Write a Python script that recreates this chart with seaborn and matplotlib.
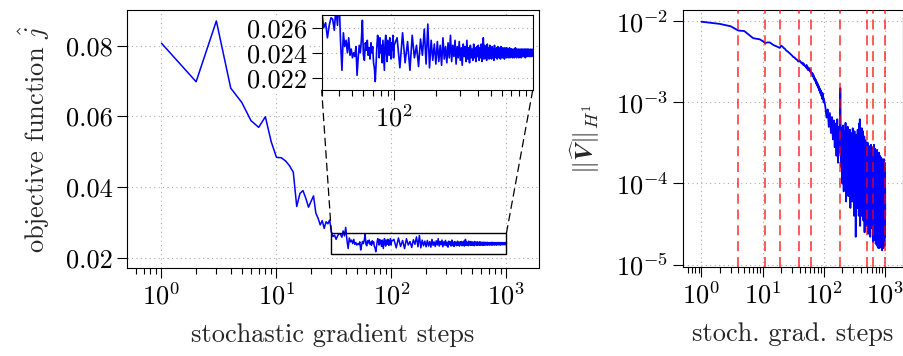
import numpy as np
import pandas as pd
import matplotlib
matplotlib.use('Agg')
import matplotlib.pyplot as plt
from matplotlib.patches import Rectangle, ConnectionPatch
from matplotlib.ticker import (FixedLocator, FormatStrFormatter, LogLocator,
                               NullLocator, NullFormatter)
import seaborn as sns

# steps: every step up to 100, then every 5th step
steps_head = list(range(1, 101))
steps_tail = list(range(105, 1001, 5))

# objective function values
obj_head = [
    .0807, .0698, .0870, .0680, .0639, .0588, .0569, .0599, .0528, .0484,
    .0483, .0474, .0460, .0442, .0345, .0382, .0390, .0368, .0343, .0360,
    .0375, .0326, .0312, .0293, .0305, .0283, .0302, .0296, .0307, .0274,
    .0260, .0264, .0252, .0262, .0268, .0267, .0258, .0276, .0262, .0286,
    .0250, .0226, .0256, .0245, .0250, .0240, .0252, .0238, .0243, .0236,
    .0240, .0237, .0245, .0222, .0236, .0246, .0240, .0250, .0266, .0238,
    .0234, .0248, .0242, .0250, .0238, .0244, .0235, .0248, .0240, .0245,
    .0232, .0228, .0217, .0230, .0245, .0254, .0248, .0236, .0252, .0240,
    .0246, .0232, .0250, .0238, .0226, .0248, .0254, .0240, .0233, .0250,
    .0244, .0238, .0252, .0240, .0235, .0248, .0242, .0254, .0236, .0246,
]
obj_tail = [
    .0252, .0228, .0256, .0232, .0249, .0226, .0254, .0236, .0246, .0229,
    .0251, .0238, .0259, .0231, .0263, .0228, .0250, .0234, .0247, .0231,
    .0249, .0233, .0246, .0230, .0252, .0235, .0245, .0232, .0248, .0236,
    .0254, .0233, .0246, .0237, .0250, .0231, .0245, .0236, .0249, .0234,
    .0244, .0230, .0247, .0237, .0245, .0233, .0250, .0235, .0244, .0232,
    .0246, .0236, .0243, .0234, .0247, .0236, .0244, .0233, .0245, .0237,
    .0246, .0234, .0244, .0236, .0247, .0233, .0245, .0252, .0235, .0246,
    .0236, .0243, .0234, .0247, .0237, .0244, .0235, .0246, .0236, .0243,
    .0235, .0245, .0237, .0243, .0234, .0246, .0237, .0243, .0236, .0244,
    .0235, .0245, .0237, .0243, .0236, .0244, .0235, .0245, .0237, .0242,
    .0236, .0244, .0237, .0243, .0235, .0244, .0237, .0242, .0236, .0244,
    .0237, .0243, .0236, .0242, .0237, .0244, .0236, .0242, .0237, .0243,
    .0237, .0243, .0236, .0242, .0238, .0243, .0236, .0242, .0237, .0244,
    .0237, .0242, .0236, .0243, .0238, .0242, .0237, .0243, .0236, .0242,
    .0238, .0243, .0237, .0242, .0236, .0243, .0238, .0242, .0237, .0243,
    .0237, .0242, .0238, .0243, .0237, .0242, .0236, .0243, .0238, .0242,
    .0237, .0243, .0238, .0242, .0237, .0243, .0238, .0242, .0237, .0242,
    .0238, .0243, .0237, .0242, .0238, .0242, .0237, .0243, .0238, .0241,
]

# H1 norm of the update
norm_head = [
    .0099, .0093, .0087, .0077, .0076, .0068, .0062, .0061, .0060, .0057,
    .0054, .0055, .0055, .0053, .0051, .0050, .0049, .0048, .0047, .0050,
    .0049, .0047, .0046, .0044, .0043, .0042, .0041, .0040, .0039, .0038,
    .0037, .0036, .0036, .0035, .0034, .0034, .0033, .0032, .0032, .0033,
    .0032, .0031, .0031, .0030, .0031, .0029, .0030, .0029, .0028, .0028,
    .0027, .0029, .0026, .0027, .0025, .0027, .0025, .0026, .0024, .0025,
    .0024, .0023, .0023, .0022, .0023, .0021, .0022, .0020, .0021, .0019,
    .0020, .0019, .0018, .0019, .0017, .0018, .0017, .0016, .0017, .0016,
    .0015, .0016, .0015, .0014, .0015, .0014, .0013, .0014, .0013, .0014,
    .0012, .0013, .0012, .0011, .0013, .0011, .0012, .0011, .0010, .0011,
]
norm_tail = [
    9.0e-4, 6.5e-4, 8.2e-4, 5.0e-4, 7.4e-4, 4.2e-4, 6.6e-4, 3.5e-4, 6.0e-4, 2.8e-4,
    5.5e-4, 2.2e-4, 6.2e-4, 1.8e-4, 5.0e-4, 2.4e-4, 1.5e-3, 1.6e-4, 4.8e-4, 1.0e-4,
    5.2e-4, 8.0e-5, 4.4e-4, 1.2e-4, 5.6e-4, 6.0e-5, 4.0e-4, 1.4e-4, 5.0e-4, 7.0e-5,
    3.8e-4, 1.1e-4, 4.6e-4, 5.0e-5, 4.2e-4, 9.0e-5, 3.6e-4, 6.0e-5, 4.8e-4, 1.0e-4,
    3.4e-4, 4.0e-5, 4.4e-4, 8.0e-5, 3.2e-4, 2.2e-5, 4.0e-4, 7.0e-5, 3.0e-4, 5.0e-5,
    4.6e-4, 9.0e-5, 3.4e-4, 4.0e-5, 5.5e-4, 8.0e-5, 6.2e-4, 3.0e-5, 4.2e-4, 7.0e-5,
    3.6e-4, 4.0e-5, 4.8e-4, 6.0e-5, 3.2e-4, 9.0e-5, 4.4e-4, 3.5e-5, 3.0e-4, 6.0e-5,
    3.8e-4, 2.5e-5, 2.8e-4, 7.0e-5, 3.4e-4, 4.0e-5, 2.6e-4, 8.0e-5, 3.0e-4, 3.0e-5,
    2.4e-4, 6.0e-5, 3.2e-4, 4.5e-5, 2.7e-4, 2.4e-5, 2.2e-4, 7.0e-5, 2.9e-4, 3.5e-5,
    2.1e-4, 6.0e-5, 2.6e-4, 2.2e-5, 2.3e-4, 5.0e-5, 3.0e-4, 3.0e-5, 2.0e-4, 6.5e-5,
    2.5e-4, 2.8e-5, 2.8e-4, 4.5e-5, 2.2e-4, 1.9e-5, 2.6e-4, 5.5e-5, 2.0e-4, 2.5e-5,
    3.0e-4, 6.0e-5, 2.4e-4, 2.0e-5, 2.7e-4, 4.5e-5, 1.9e-4, 2.6e-5, 2.3e-4, 1.8e-5,
    2.5e-4, 5.0e-5, 1.8e-4, 2.2e-5, 2.2e-4, 4.0e-5, 2.6e-4, 1.7e-5, 2.0e-4, 5.0e-5,
    1.8e-4, 2.4e-5, 2.3e-4, 1.6e-5, 2.1e-4, 4.2e-5, 1.7e-4, 2.0e-5, 2.4e-4, 3.5e-5,
    1.9e-4, 1.6e-5, 2.2e-4, 4.0e-5, 1.7e-4, 2.2e-5, 2.0e-4, 3.2e-5, 1.6e-4, 1.8e-5,
    2.1e-4, 4.0e-5, 1.8e-4, 2.0e-5, 1.9e-4, 3.0e-5, 1.6e-4, 1.5e-5, 2.0e-4, 3.5e-5,
    1.7e-4, 1.9e-5, 1.9e-4, 4.0e-5, 1.6e-4, 1.6e-5, 1.8e-4, 3.0e-5, 1.7e-4, 2.0e-5,
    2.0e-4, 3.5e-5, 1.6e-4, 1.7e-5, 1.8e-4, 2.8e-5, 1.5e-4, 2.2e-5, 1.7e-4, 4.0e-5,
]

# steps where the red dashed markers are
reset_steps = [4, 11, 19, 39, 61, 185, 505, 640, 985]

#%% style
sns.set_style('ticks')
plt.rcParams.update({
    'font.family': 'serif',
    'font.serif': ['cmr10', 'DejaVu Serif'],
    'mathtext.fontset': 'cm',
    'axes.formatter.use_mathtext': True,
    'axes.unicode_minus': False,
    'font.size': 19,
    'axes.edgecolor': 'black',
    'axes.linewidth': 0.8,
    'xtick.direction': 'out',
    'ytick.direction': 'out',
    'xtick.major.size': 7,
    'ytick.major.size': 7,
    'xtick.minor.size': 4.5,
    'ytick.minor.size': 4.5,
    'xtick.major.width': 0.8,
    'ytick.major.width': 0.8,
    'xtick.minor.width': 0.8,
    'ytick.minor.width': 0.8,
    'xtick.color': 'black',
    'ytick.color': 'black',
    'xtick.labelsize': 19,
    'ytick.labelsize': 19,
})

df = pd.DataFrame({'step': steps_head + steps_tail,
                   'obj': obj_head + obj_tail,
                   'norm': norm_head + norm_tail})

W, H = 904, 356
fig = plt.figure(figsize=(W / 100, H / 100), dpi=100)
ax1 = fig.add_axes([127 / W, 1 - 268 / H, 412 / W, 258 / H])
ax2 = fig.add_axes([683 / W, 1 - 267 / H, 220 / W, 257 / H])
axins = fig.add_axes([321.7 / W, 1 - 90.3 / H, 211 / W, 75 / H])

grid_kw = dict(ls=(0, (1, 3)), color='#aaaaaa', lw=0.8)

#%% left panel
sns.lineplot(data=df, x='step', y='obj', ax=ax1, color='blue', lw=1.1,
             estimator=None, sort=False)
ax1.set_xscale('log')
ax1.set_xlim(10 ** -0.3, 10 ** 3.283)
ax1.set_ylim(0.0171, 0.0901)
ax1.yaxis.set_major_locator(FixedLocator([0.02, 0.04, 0.06, 0.08]))
ax1.yaxis.set_major_formatter(FormatStrFormatter('%.2f'))
ax1.xaxis.set_major_locator(LogLocator(base=10, numticks=10))
ax1.xaxis.set_minor_locator(LogLocator(base=10, subs=np.arange(2, 10), numticks=20))
ax1.xaxis.set_minor_formatter(NullFormatter())
ax1.grid(True, which='major', **grid_kw)
ax1.set_axisbelow(True)
ax1.set_xlabel('stochastic gradient steps', labelpad=10)
ax1.set_ylabel(r'objective function $\hat{j}$', labelpad=10)

ax1.add_patch(Rectangle((30, 0.021), 970, 0.006, fill=False, ec='black',
                        lw=1.0, zorder=4))

#%% inset
sns.lineplot(data=df, x='step', y='obj', ax=axins, color='blue', lw=1.2,
             estimator=None, sort=False)
axins.set_xscale('log')
axins.set_xlim(30, 1000)
axins.set_ylim(0.021, 0.027)
axins.xaxis.set_major_locator(FixedLocator([100]))
axins.xaxis.set_minor_locator(LogLocator(base=10, subs=np.arange(2, 10), numticks=20))
axins.xaxis.set_minor_formatter(NullFormatter())
axins.yaxis.set_major_locator(FixedLocator([0.022, 0.024, 0.026]))
axins.yaxis.set_major_formatter(FormatStrFormatter('%.3f'))
axins.yaxis.set_minor_locator(NullLocator())
axins.grid(True, which='major', **grid_kw)
axins.set_axisbelow(True)
axins.set_xlabel('')
axins.set_ylabel('')
axins.set_facecolor('white')
for lab in axins.get_yticklabels():
    lab.set_bbox(dict(facecolor='white', edgecolor='none', pad=0))

for xa, xb in [(30, 30), (1000, 1000)]:
    con = ConnectionPatch(xyA=(xa, 0.027), coordsA=ax1.transData,
                          xyB=(xb, 0.021), coordsB=axins.transData,
                          ls=(0, (6, 4)), color='black', lw=0.9)
    fig.add_artist(con)

#%% right panel
sns.lineplot(data=df, x='step', y='norm', ax=ax2, color='blue', lw=1.3,
             estimator=None, sort=False)
for s in reset_steps:
    ax2.axvline(s, color='red', ls=(0, (6, 3.5)), lw=1.2, alpha=0.75, zorder=3)
ax2.set_xscale('log')
ax2.set_yscale('log')
ax2.set_xlim(10 ** -0.3, 10 ** 3.29)
ax2.set_ylim(10 ** -5.03, 10 ** -1.86)
ax2.xaxis.set_major_locator(LogLocator(base=10, numticks=10))
ax2.xaxis.set_minor_locator(LogLocator(base=10, subs=np.arange(2, 10), numticks=20))
ax2.xaxis.set_minor_formatter(NullFormatter())
ax2.yaxis.set_major_locator(LogLocator(base=10, numticks=10))
ax2.yaxis.set_minor_locator(NullLocator())
ax2.grid(True, which='major', **grid_kw)
ax2.set_axisbelow(True)
ax2.set_xlabel('stoch. grad. steps', labelpad=10)
ax2.set_ylabel(r'$\|\widehat{\boldsymbol{V}}\|_{H^1}$', labelpad=10)

fig.savefig('out.png', dpi=100)
